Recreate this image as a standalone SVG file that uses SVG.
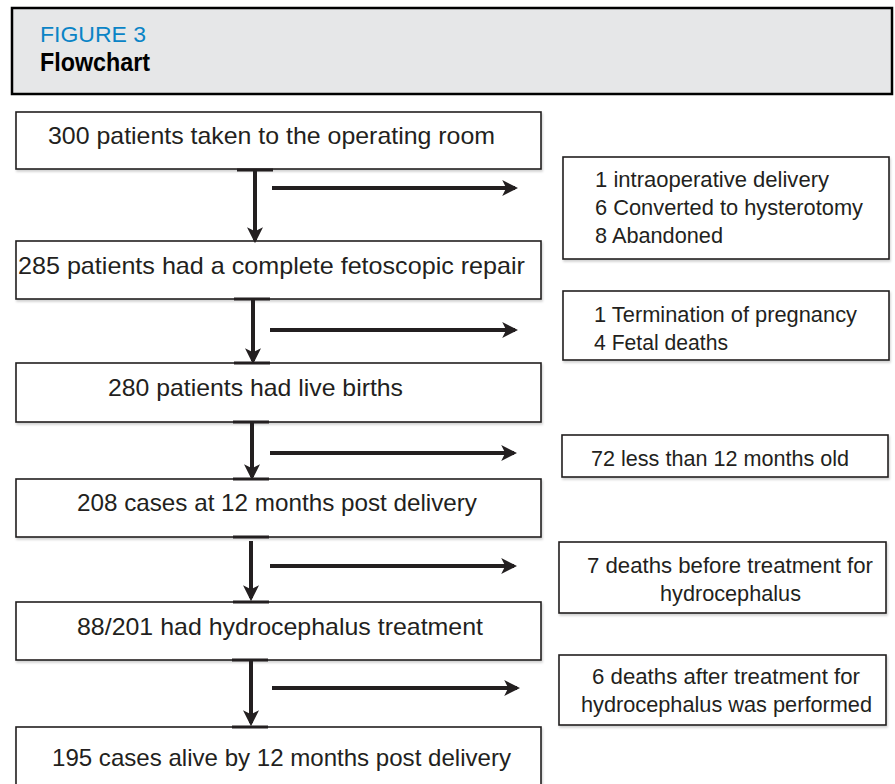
<svg xmlns="http://www.w3.org/2000/svg" width="895" height="784" viewBox="0 0 895 784">
<defs>
<style>
.box{fill:#fff;stroke:#231f20;stroke-width:1.6}
.t{font-family:"Liberation Sans",Arial,sans-serif;font-size:24px;fill:#231f20}
.s{font-family:"Liberation Sans",Arial,sans-serif;font-size:21.5px;fill:#231f20}
.ln{stroke:#231f20;stroke-width:4;fill:none}
.tick{stroke:#231f20;stroke-width:3}
</style>
<marker id="ah" viewBox="0 0 10 10" refX="8" refY="5" markerWidth="4" markerHeight="4" orient="auto" markerUnits="strokeWidth">
<path d="M0,0 L10,5 L0,10 L2.5,5 Z" fill="#231f20"/>
</marker>
<filter id="sh" x="-5%" y="-5%" width="110%" height="120%">
<feDropShadow dx="1" dy="2" stdDeviation="1.2" flood-color="#000" flood-opacity="0.18"/>
</filter>
</defs>
<rect width="895" height="784" fill="#fff"/>
<g id="header">
<rect x="12" y="8" width="880" height="86" fill="#e6e7e8" stroke="#000" stroke-width="2.5"/>
<text x="40" y="42" font-family="'Liberation Sans',Arial,sans-serif" font-size="22" fill="#0a84c6" textLength="106" lengthAdjust="spacingAndGlyphs">FIGURE 3</text>
<text x="40" y="71" font-family="'Liberation Sans',Arial,sans-serif" font-size="26" font-weight="bold" fill="#000" textLength="110" lengthAdjust="spacingAndGlyphs">Flowchart</text>
</g>
<g id="n1"><rect class="box" filter="url(#sh)" x="16" y="112" width="525" height="57"/><text class="t" x="48" y="144" textLength="447" lengthAdjust="spacingAndGlyphs">300 patients taken to the operating room</text></g>
<g id="n2"><rect class="box" filter="url(#sh)" x="16" y="241" width="525" height="58"/><text class="t" x="18" y="274" textLength="507" lengthAdjust="spacingAndGlyphs">285 patients had a complete fetoscopic repair</text></g>
<g id="n3"><rect class="box" filter="url(#sh)" x="16" y="363" width="525" height="59"/><text class="t" x="108" y="396" textLength="295" lengthAdjust="spacingAndGlyphs">280 patients had live births</text></g>
<g id="n4"><rect class="box" filter="url(#sh)" x="16" y="479" width="525" height="58"/><text class="t" x="77" y="511" textLength="400" lengthAdjust="spacingAndGlyphs">208 cases at 12 months post delivery</text></g>
<g id="n5"><rect class="box" filter="url(#sh)" x="16" y="602" width="525" height="58"/><text class="t" x="77" y="635" textLength="406" lengthAdjust="spacingAndGlyphs">88/201 had hydrocephalus treatment</text></g>
<g id="n6"><rect class="box" filter="url(#sh)" x="16" y="727" width="525" height="70"/><text class="t" x="52" y="766" textLength="459" lengthAdjust="spacingAndGlyphs">195 cases alive by 12 months post delivery</text></g>
<g id="r1"><rect class="box" filter="url(#sh)" x="563" y="157" width="326" height="102"/>
<text class="s" x="595" y="187" textLength="234" lengthAdjust="spacingAndGlyphs">1 intraoperative delivery</text>
<text class="s" x="595" y="215" textLength="268" lengthAdjust="spacingAndGlyphs">6 Converted to hysterotomy</text>
<text class="s" x="595" y="243" textLength="128" lengthAdjust="spacingAndGlyphs">8 Abandoned</text></g>
<g id="r2"><rect class="box" filter="url(#sh)" x="563" y="291" width="326" height="69"/>
<text class="s" x="594" y="322" textLength="263" lengthAdjust="spacingAndGlyphs">1 Termination of pregnancy</text>
<text class="s" x="594" y="350" textLength="134" lengthAdjust="spacingAndGlyphs">4 Fetal deaths</text></g>
<g id="r3"><rect class="box" filter="url(#sh)" x="562" y="435" width="326" height="42"/>
<text class="s" x="591" y="466" textLength="258" lengthAdjust="spacingAndGlyphs">72 less than 12 months old</text></g>
<g id="r4"><rect class="box" filter="url(#sh)" x="559" y="542" width="327" height="71"/>
<text class="s" x="587" y="573" textLength="286" lengthAdjust="spacingAndGlyphs">7 deaths before treatment for</text>
<text class="s" x="660" y="601" textLength="141" lengthAdjust="spacingAndGlyphs">hydrocephalus</text></g>
<g id="r5"><rect class="box" filter="url(#sh)" x="559" y="655" width="327" height="70"/>
<text class="s" x="592" y="684" textLength="268" lengthAdjust="spacingAndGlyphs">6 deaths after treatment for</text>
<text class="s" x="581" y="712" textLength="291" lengthAdjust="spacingAndGlyphs">hydrocephalus was performed</text></g>
<g id="connectors">
<line class="tick" x1="237" y1="170" x2="273" y2="170"/>
<line class="tick" x1="234" y1="299" x2="270" y2="299"/>
<line class="tick" x1="234" y1="363" x2="270" y2="363"/>
<line class="tick" x1="233" y1="422" x2="269" y2="422"/>
<line class="tick" x1="233" y1="479" x2="269" y2="479"/>
<line class="tick" x1="233" y1="537" x2="269" y2="537"/>
<line class="tick" x1="233" y1="602" x2="269" y2="602"/>
<line class="tick" x1="232" y1="660" x2="268" y2="660"/>
<line class="tick" x1="232" y1="727" x2="268" y2="727"/>
<line class="ln" x1="255" y1="170" x2="255" y2="240" marker-end="url(#ah)"/>
<line class="ln" x1="253" y1="299" x2="253" y2="361" marker-end="url(#ah)"/>
<line class="ln" x1="252" y1="422" x2="252" y2="477" marker-end="url(#ah)"/>
<line class="ln" x1="251" y1="541" x2="251" y2="598" marker-end="url(#ah)"/>
<line class="ln" x1="251" y1="660" x2="251" y2="723" marker-end="url(#ah)"/>
<line class="ln" x1="272" y1="188" x2="515" y2="188" marker-end="url(#ah)"/>
<line class="ln" x1="270" y1="330" x2="515" y2="330" marker-end="url(#ah)"/>
<line class="ln" x1="270" y1="453" x2="514" y2="453" marker-end="url(#ah)"/>
<line class="ln" x1="270" y1="566" x2="514" y2="566" marker-end="url(#ah)"/>
<line class="ln" x1="272" y1="688" x2="517" y2="688" marker-end="url(#ah)"/>
</g>
</svg>
